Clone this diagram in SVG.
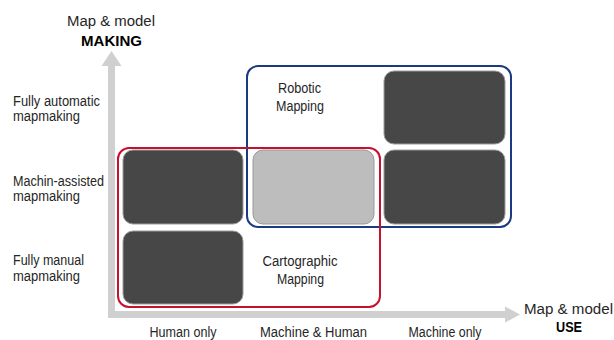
<svg xmlns="http://www.w3.org/2000/svg" width="614" height="340" viewBox="0 0 614 340">
  <style>
    text { font-family: "Liberation Sans", Arial, sans-serif; font-size: 14px; fill: #262626; }
    .c { text-anchor: middle; }
    .b { font-weight: bold; fill: #000; }
    .dark { fill: #474747; stroke: #9c9c9c; stroke-width: 1; }
    .light { fill: #bdbdbd; stroke: #999999; stroke-width: 1; }
    .axis { fill: #d0d0d0; }
  </style>
  <rect width="614" height="340" fill="#ffffff"/>

  <g id="connectors">
    <rect class="axis" x="108" y="63" width="7" height="255"/>
    <polygon class="axis" points="111.5,51 101.5,66 121.5,66"/>
    <rect class="axis" x="108" y="311" width="398" height="7"/>
    <polygon class="axis" points="520,314.5 505,306.5 505,322.5"/>
  </g>

  <g id="axis-labels">
    <text class="c" x="111" y="26" textLength="88" lengthAdjust="spacingAndGlyphs">Map &amp; model</text>
    <text class="c b" x="111.5" y="46" textLength="61" lengthAdjust="spacingAndGlyphs">MAKING</text>
    <text class="c" x="568.5" y="313.5" textLength="89" lengthAdjust="spacingAndGlyphs">Map &amp; model</text>
    <text class="c b" x="569" y="332" textLength="26" lengthAdjust="spacingAndGlyphs">USE</text>
  </g>

  <g id="row-labels">
    <text x="13" y="105.5" textLength="87" lengthAdjust="spacingAndGlyphs">Fully automatic</text>
    <text x="13" y="121" textLength="67" lengthAdjust="spacingAndGlyphs">mapmaking</text>
    <text x="13" y="185.5" textLength="91" lengthAdjust="spacingAndGlyphs">Machin-assisted</text>
    <text x="13" y="201" textLength="67" lengthAdjust="spacingAndGlyphs">mapmaking</text>
    <text x="13" y="265" textLength="71" lengthAdjust="spacingAndGlyphs">Fully manual</text>
    <text x="13" y="281" textLength="67" lengthAdjust="spacingAndGlyphs">mapmaking</text>
  </g>

  <g id="column-labels">
    <text class="c" x="183" y="336.5" textLength="67" lengthAdjust="spacingAndGlyphs">Human only</text>
    <text class="c" x="313.5" y="336.5" textLength="107" lengthAdjust="spacingAndGlyphs">Machine &amp; Human</text>
    <text class="c" x="445" y="336.5" textLength="73" lengthAdjust="spacingAndGlyphs">Machine only</text>
  </g>

  <g id="cell-human-assisted"><rect class="dark" x="123" y="150" width="120" height="74" rx="10"/></g>
  <g id="cell-human-manual"><rect class="dark" x="123" y="231" width="120" height="73" rx="10"/></g>
  <g id="cell-mixed-assisted"><rect class="light" x="253" y="150" width="121" height="74" rx="10"/></g>
  <g id="cell-machine-automatic"><rect class="dark" x="384" y="71" width="121" height="73" rx="10"/></g>
  <g id="cell-machine-assisted"><rect class="dark" x="384" y="150" width="121" height="74" rx="10"/></g>

  <g id="robotic-mapping">
    <rect x="247" y="66" width="264" height="161" rx="11" fill="none" stroke="#1c3a82" stroke-width="2"/>
    <text class="c" x="299.5" y="92.5" textLength="43" lengthAdjust="spacingAndGlyphs">Robotic</text>
    <text class="c" x="300" y="110.5" textLength="48" lengthAdjust="spacingAndGlyphs">Mapping</text>
  </g>

  <g id="cartographic-mapping">
    <rect x="118" y="148" width="262" height="159" rx="11" fill="none" stroke="#c8102e" stroke-width="2"/>
    <text class="c" x="300" y="265.5" textLength="75" lengthAdjust="spacingAndGlyphs">Cartographic</text>
    <text class="c" x="300.5" y="283.5" textLength="47" lengthAdjust="spacingAndGlyphs">Mapping</text>
  </g>
</svg>
